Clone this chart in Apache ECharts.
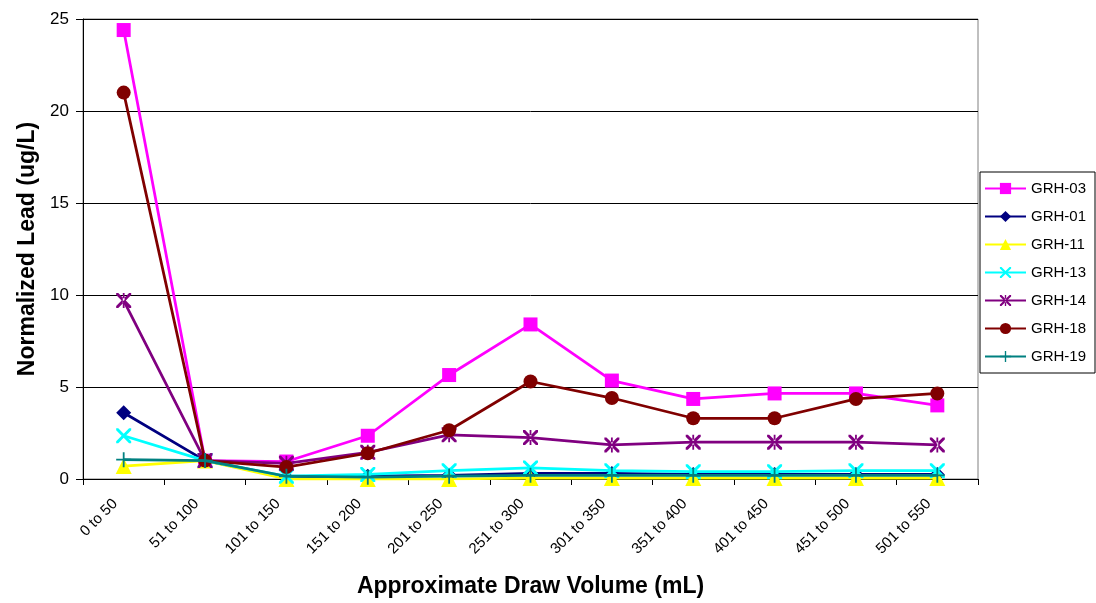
<!DOCTYPE html>
<html>
<head>
<meta charset="utf-8">
<script src="https://cdn.jsdelivr.net/npm/echarts@6/dist/echarts.min.js"></script>
<style>
html,body{margin:0;padding:0;background:#fff;}
#c{width:1096px;height:603px;}
</style>
</head>
<body>
<div id="c"></div>
<script>
const categories = ['0 to 50','51 to 100','101 to 150','151 to 200','201 to 250','251 to 300','301 to 350','351 to 400','401 to 450','451 to 500','501 to 550'];
const seriesNames = ['GRH-03','GRH-01','GRH-11','GRH-13','GRH-14','GRH-18','GRH-19'];
const grh03 = [24.4, 1.0, 0.95, 2.35, 5.65, 8.4, 5.35, 4.35, 4.65, 4.65, 4.0];
const grh01 = [3.6, 1.0, 0.1, 0.15, 0.2, 0.3, 0.3, 0.25, 0.25, 0.25, 0.25];
const grh11 = [0.7, 1.0, 0.0, 0.0, 0.0, 0.05, 0.05, 0.05, 0.05, 0.05, 0.05];
const grh13 = [2.35, 1.0, 0.15, 0.25, 0.45, 0.6, 0.45, 0.4, 0.4, 0.45, 0.45];
const grh14 = [9.7, 1.0, 0.85, 1.45, 2.4, 2.25, 1.85, 2.0, 2.0, 2.0, 1.85];
const grh18 = [21.0, 1.0, 0.65, 1.4, 2.65, 5.3, 4.4, 3.3, 3.3, 4.35, 4.65];
const grh19 = [1.05, 1.0, 0.15, 0.1, 0.15, 0.2, 0.2, 0.2, 0.2, 0.2, 0.2];
const yTicks = [0, 5, 10, 15, 20, 25];

const seriesData = [grh03, grh01, grh11, grh13, grh14, grh18, grh19];
const colors = ['#FF00FF','#000080','#FFFF00','#00FFFF','#800080','#800000','#008080'];
const xPath = 'path://M0,0 L1.4,0 L5,3.6 L8.6,0 L10,0 L10,1.4 L6.4,5 L10,8.6 L10,10 L8.6,10 L5,6.4 L1.4,10 L0,10 L0,8.6 L3.6,5 L0,1.4 Z';
const plusPath = 'path://M4.4,0 L5.6,0 L5.6,4.4 L10,4.4 L10,5.6 L5.6,5.6 L5.6,10 L4.4,10 L4.4,5.6 L0,5.6 L0,4.4 L4.4,4.4 Z';
const starPath = 'path://M0,0 L1.4,0 L5,3.6 L8.6,0 L10,0 L10,1.4 L6.4,5 L10,8.6 L10,10 L8.6,10 L5,6.4 L1.4,10 L0,10 L0,8.6 L3.6,5 L0,1.4 Z M4.4,0 L4.4,10 L5.6,10 L5.6,0 Z';
const symbols = ['rect','diamond','triangle', xPath, starPath, 'circle', plusPath];
const symbolSizes = [14, 15, 16, 15, 15, 14, 15];

const chart = echarts.init(document.getElementById('c'), null, {renderer:'canvas'});
chart.setOption({
  animation: false,
  backgroundColor: '#fff',
  grid: {left: 83, right: 118, top: 19, bottom: 124, show: true, borderColor: '#808080', borderWidth: 1},
  legend: {
    orient: 'vertical',
    left: 980, top: 172,
    padding: [9, 9, 9, 4],
    itemGap: 13,
    itemWidth: 41, itemHeight: 14,
    borderColor: '#000', borderWidth: 1,
    textStyle: {fontFamily: 'Liberation Sans, Arial', fontSize: 15, color: '#000'},
    data: seriesNames
  },
  xAxis: {
    type: 'category',
    data: categories,
    boundaryGap: true,
    axisLine: {lineStyle: {color: '#000', width: 1}},
    axisTick: {show: true, alignWithLabel: false, length: 6, lineStyle: {color: '#000'}},
    axisLabel: {rotate: 45, fontFamily: 'Liberation Sans, Arial', fontSize: 15, color: '#000', margin: 14, padding: [0, 12, 0, 0], interval: 0},
    name: 'Approximate Draw Volume (mL)',
    nameLocation: 'middle',
    nameGap: 96,
    nameTextStyle: {fontFamily: 'Liberation Sans, Arial', fontSize: 23, fontWeight: 'bold', color: '#000'}
  },
  yAxis: {
    type: 'value',
    min: yTicks[0], max: yTicks[yTicks.length-1], interval: 5,
    axisLine: {show: true, lineStyle: {color: '#000', width: 1}},
    axisTick: {show: true, length: 7, lineStyle: {color: '#000'}},
    axisLabel: {fontFamily: 'Liberation Sans, Arial', fontSize: 17, color: '#000', margin: 14},
    splitLine: {show: true, lineStyle: {color: '#000', width: 1}},
    name: 'Normalized Lead (ug/L)',
    nameLocation: 'middle',
    nameGap: 44,
    nameRotate: 90,
    nameTextStyle: {fontFamily: 'Liberation Sans, Arial', fontSize: 23, fontWeight: 'bold', color: '#000'}
  },
  series: seriesNames.map((n, i) => ({
    name: n,
    type: 'line',
    data: seriesData[i],
    symbol: symbols[i],
    symbolSize: symbolSizes[i],
    showAllSymbol: true,
    lineStyle: {color: colors[i], width: 2.75},
    itemStyle: {color: colors[i], borderWidth: 0},
    z: 2 + i
  }))
});
</script>
</body>
</html>
